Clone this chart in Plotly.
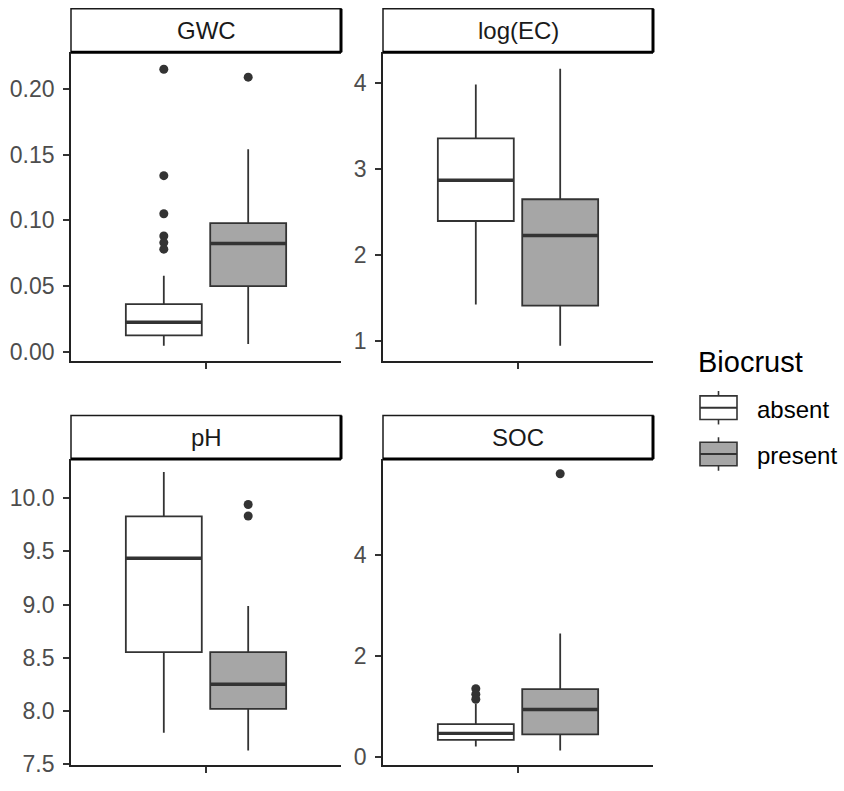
import plotly.graph_objects as go

# ---------------- data ----------------
variables = ["GWC", "log(EC)", "pH", "SOC"]
groups = ["absent", "present"]

q1 = {"GWC": [0.0123, 0.0499], "log(EC)": [2.394, 1.412], "pH": [8.552, 8.019], "SOC": [0.344, 0.455]}
median = {"GWC": [0.0223, 0.0823], "log(EC)": [2.868, 2.226], "pH": [9.435, 8.250], "SOC": [0.474, 0.948]}
q3 = {"GWC": [0.0361, 0.0978], "log(EC)": [3.353, 2.647], "pH": [9.830, 8.552], "SOC": [0.656, 1.351]}
lower = {"GWC": [0.0045, 0.0058], "log(EC)": [1.423, 0.946], "pH": [7.793, 7.627], "SOC": [0.214, 0.136]}
upper = {"GWC": [0.0577, 0.154], "log(EC)": [3.98, 4.164], "pH": [10.247, 8.985], "SOC": [1.06, 2.455]}
outliers = {
    "GWC": [[0.215, 0.134, 0.105, 0.088, 0.083, 0.078], [0.209]],
    "log(EC)": [[], []],
    "pH": [[], [9.941, 9.833]],
    "SOC": [[1.36, 1.25, 1.15], [5.617]],
}
yticks = {
    "GWC": [0.00, 0.05, 0.10, 0.15, 0.20],
    "log(EC)": [1, 2, 3, 4],
    "pH": [7.5, 8.0, 8.5, 9.0, 9.5, 10.0],
    "SOC": [0, 2, 4],
}
yticklabels = {
    "GWC": ["0.00", "0.05", "0.10", "0.15", "0.20"],
    "log(EC)": ["1", "2", "3", "4"],
    "pH": ["7.5", "8.0", "8.5", "9.0", "9.5", "10.0"],
    "SOC": ["0", "2", "4"],
}

# ---------------- style / layout ----------------
W, H = 844, 791
FONT = "Liberation Sans, Arial, sans-serif"
fills = {"absent": "#FFFFFF", "present": "#A6A6A6"}
LINE = "#333333"
box_w = 0.3375
offsets = [-0.1875, 0.1875]

yranges = {"GWC": [-0.0075, 0.228], "log(EC)": [0.763, 4.355], "pH": [7.488, 10.37], "SOC": [-0.156, 5.91]}

# panel pixel boxes (left, right, top, bottom) of plot areas
panels = {
    "GWC": (71, 341, 53, 367),
    "log(EC)": (383, 653, 53, 367),
    "pH": (71, 341, 466, 777),
    "SOC": (383, 653, 466, 777),
}
strip_h = 44

fig = go.Figure()
layout = dict(
    width=W, height=H, margin=dict(l=0, r=0, t=0, b=0),
    paper_bgcolor="white", plot_bgcolor="white", showlegend=False,
    font=dict(family=FONT, color="#4D4D4D"),
)
shapes = []
annotations = []

for i, v in enumerate(variables):
    n = i + 1
    xa = "x" if n == 1 else f"x{n}"
    ya = "y" if n == 1 else f"y{n}"
    L, R, T, B = panels[v]
    layout["xaxis" if n == 1 else f"xaxis{n}"] = dict(
        domain=[L / W, R / W], anchor=ya, range=[0.4, 1.6],
        tickvals=[1], ticktext=[""], ticks="outside", ticklen=6, tickwidth=1.6, tickcolor="#333333",
        showline=True, linecolor="#222222", linewidth=1.8, showgrid=False, zeroline=False, fixedrange=True,
    )
    layout["yaxis" if n == 1 else f"yaxis{n}"] = dict(
        domain=[1 - B / H, 1 - T / H], anchor=xa, range=yranges[v],
        tickvals=yticks[v], ticktext=yticklabels[v], ticks="outside", ticklen=6, tickwidth=1.6,
        tickcolor="#333333", showline=True, linecolor="#222222", linewidth=1.8, showgrid=False,
        zeroline=False, tickfont=dict(size=23, color="#4D4D4D"), fixedrange=True,
        ticklabelstandoff=4,
    )
    for g_i, g in enumerate(groups):
        xc = 1 + offsets[g_i]
        fig.add_trace(go.Box(
            x=[xc], q1=[q1[v][g_i]], median=[median[v][g_i]], q3=[q3[v][g_i]],
            lowerfence=[lower[v][g_i]], upperfence=[upper[v][g_i]],
            width=box_w, fillcolor=fills[g], line=dict(color=LINE, width=1.8),
            whiskerwidth=0, boxpoints=False, xaxis=xa, yaxis=ya, name=g, hoverinfo="skip",
        ))
        fig.add_trace(go.Scatter(
            x=[xc - box_w / 2, xc + box_w / 2], y=[median[v][g_i]] * 2, mode="lines",
            line=dict(color=LINE, width=3.4), xaxis=xa, yaxis=ya, hoverinfo="skip",
        ))
        if outliers[v][g_i]:
            fig.add_trace(go.Scatter(
                x=[xc] * len(outliers[v][g_i]), y=outliers[v][g_i], mode="markers",
                marker=dict(color=LINE, size=9), xaxis=xa, yaxis=ya, hoverinfo="skip",
            ))
    # strip
    st, sb = T - strip_h, T
    shapes.append(dict(type="rect", xref="paper", yref="paper", x0=L / W, x1=R / W,
                       y0=1 - sb / H, y1=1 - st / H, line=dict(color="#1A1A1A", width=1.5),
                       fillcolor="white", layer="above"))
    shapes.append(dict(type="line", xref="paper", yref="paper", x0=R / W, x1=R / W,
                       y0=1 - sb / H, y1=1 - st / H, line=dict(color="black", width=3)))
    shapes.append(dict(type="line", xref="paper", yref="paper", x0=L / W, x1=R / W,
                       y0=1 - sb / H, y1=1 - sb / H, line=dict(color="black", width=3)))
    annotations.append(dict(text=v, x=(L + R) / 2 / W, y=1 - (st + sb) / 2 / H, xref="paper", yref="paper",
                            showarrow=False, xanchor="center", yanchor="middle",
                            font=dict(size=24, color="#1A1A1A", family=FONT)))

# manual legend
annotations.append(dict(text="Biocrust", x=696 / W, y=1 - 368 / H, xref="paper", yref="paper",
                        showarrow=False, xanchor="left", yanchor="middle",
                        font=dict(size=29, color="black", family=FONT)))
key_centres = [414, 461]
for g_i, g in enumerate(groups):
    cy = key_centres[g_i]
    kx0, kx1 = 700, 737
    kmid = (kx0 + kx1) / 2
    shapes.append(dict(type="line", xref="paper", yref="paper", x0=kmid / W, x1=kmid / W,
                       y0=1 - (cy + 17) / H, y1=1 - (cy - 17) / H, line=dict(color=LINE, width=1.6)))
    shapes.append(dict(type="rect", xref="paper", yref="paper", x0=kx0 / W, x1=kx1 / W,
                       y0=1 - (cy + 12) / H, y1=1 - (cy - 12) / H, line=dict(color=LINE, width=1.6),
                       fillcolor=fills[g]))
    shapes.append(dict(type="line", xref="paper", yref="paper", x0=kx0 / W, x1=kx1 / W,
                       y0=1 - cy / H, y1=1 - cy / H, line=dict(color=LINE, width=2)))
    annotations.append(dict(text=g, x=755 / W, y=1 - (cy + 2) / H, xref="paper", yref="paper",
                            showarrow=False, xanchor="left", yanchor="middle",
                            font=dict(size=24, color="black", family=FONT)))

layout["shapes"] = shapes
layout["annotations"] = annotations
fig.update_layout(**layout)
fig.write_html("out.html")
